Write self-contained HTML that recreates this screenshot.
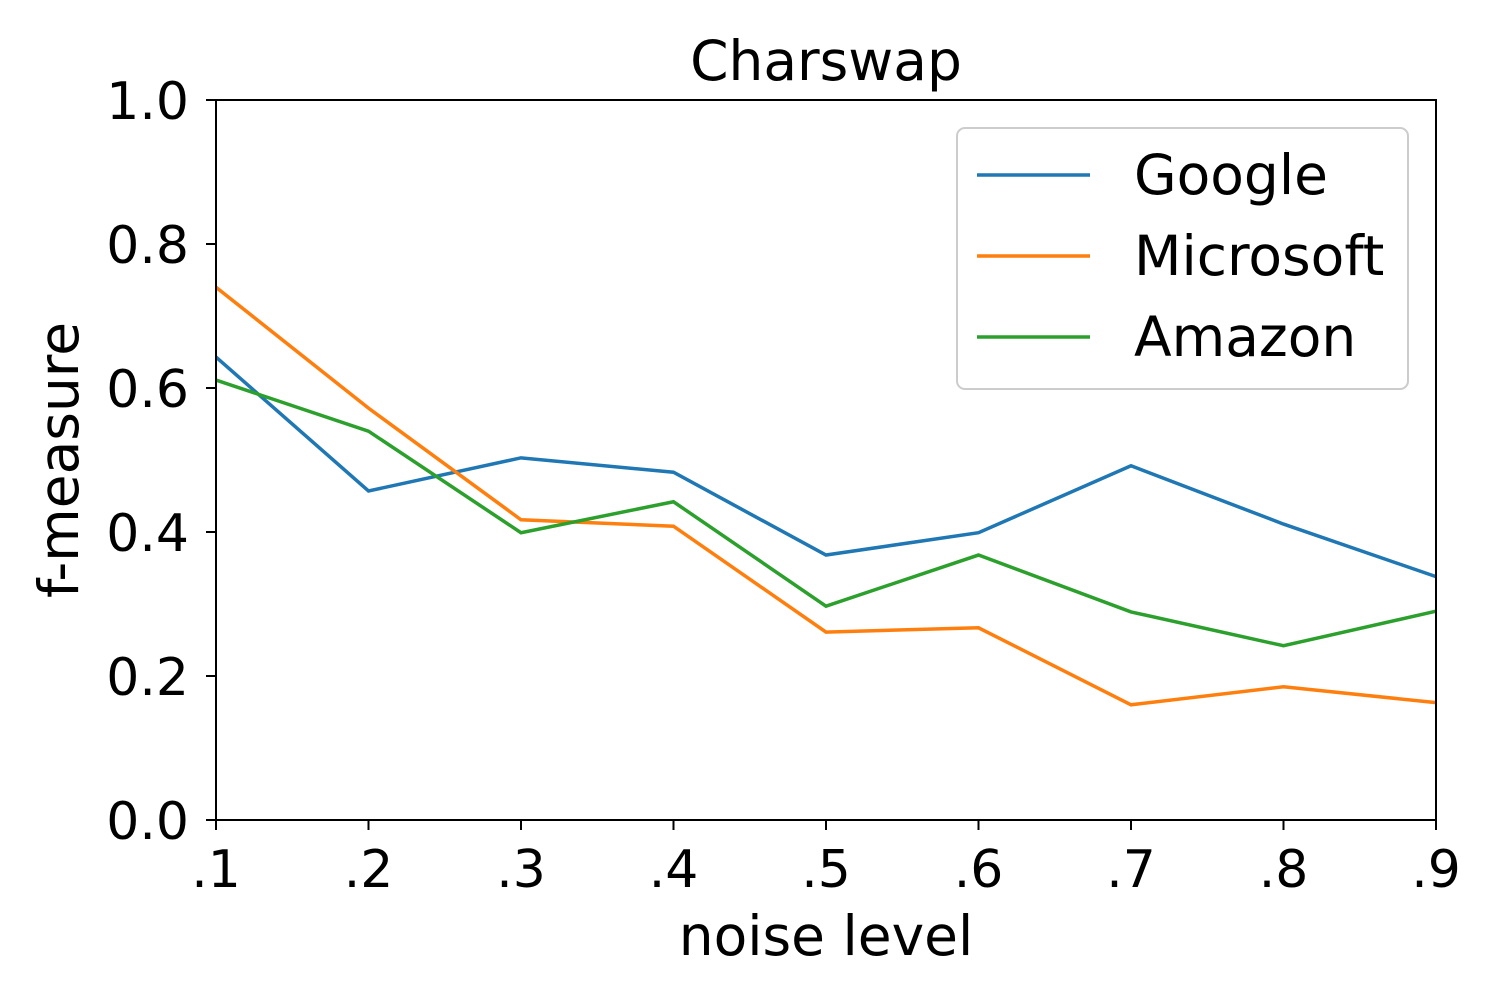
<!DOCTYPE html>
<html><head><meta charset="utf-8"><style>
body{margin:0;background:#fff}
svg{font-family:"DejaVu Sans","Liberation Sans",sans-serif}
</style></head><body>
<svg id="chart" width="1500" height="1000" viewBox="0 0 1500 1000">
<rect width="1500" height="1000" fill="#fff"/>
<text x="826" y="80" font-size="55" text-anchor="middle">Charswap</text>
<g id="plot"></g>
<rect x="216" y="100" width="1220" height="720" fill="none" stroke="#000" stroke-width="2"/>
<g id="ticks"></g>
<text x="826" y="955" font-size="55" text-anchor="middle">noise level</text>
<text transform="translate(78,460) rotate(-90)" font-size="55" text-anchor="middle">f-measure</text>
<g id="legend">
<rect x="957" y="128" width="451" height="261" rx="8" fill="#fff" fill-opacity="0.8" stroke="#ccc" stroke-width="2"/>
</g>
</svg>
<script>
const categories=[".1",".2",".3",".4",".5",".6",".7",".8",".9"];
const google=[0.643,0.457,0.503,0.483,0.368,0.399,0.492,0.411,0.338];
const microsoft=[0.740,0.572,0.417,0.408,0.261,0.267,0.160,0.185,0.163];
const amazon=[0.611,0.540,0.399,0.442,0.297,0.368,0.289,0.242,0.290];
const yTicks=[0,0.2,0.4,0.6,0.8,1.0];
const yTickLabels=["0.0","0.2","0.4","0.6","0.8","1.0"];
const seriesNames=["Google","Microsoft","Amazon"];
const NS="http://www.w3.org/2000/svg";
const X0=216,X1=1436,Y0=820,Y1=100;
const xs=i=>X0+(X1-X0)*i/(categories.length-1);
const ys=v=>Y0-(Y0-Y1)*v;
const colors=["#1f77b4","#ff7f0e","#2ca02c"];
const data=[google,microsoft,amazon];
const plot=document.getElementById('plot'),ticks=document.getElementById('ticks'),legend=document.getElementById('legend');
function mk(t,a,p){const e=document.createElementNS(NS,t);for(const k in a)e.setAttribute(k,a[k]);p.appendChild(e);return e;}
data.forEach((s,k)=>{
 const el=mk('polyline',{points:s.map((v,i)=>xs(i)+','+ys(v)).join(' '),fill:'none',stroke:colors[k],'stroke-width':3.5},plot);
 
 
});
categories.forEach((c,i)=>{
 const l=mk('line',{x1:xs(i),x2:xs(i),y1:Y0,y2:Y0+10,stroke:'#000','stroke-width':2},ticks);
 
 
 const t=mk('text',{x:xs(i),y:887,'font-size':52,'text-anchor':'middle'},ticks);t.textContent=c;
 
 
});
yTicks.forEach((v,i)=>{
 const l=mk('line',{x1:X0-10,x2:X0,y1:ys(v),y2:ys(v),stroke:'#000','stroke-width':2},ticks);
 
 
 const t=mk('text',{x:X0-27,y:ys(v)+19,'font-size':52,'text-anchor':'end'},ticks);t.textContent=yTickLabels[i];
 
 
});
seriesNames.forEach((n,k)=>{
 const y=175+81*k;
 const l=mk('line',{x1:977,x2:1090,y1:y,y2:y,stroke:colors[k],'stroke-width':3.5},legend);
 
 
 const t=mk('text',{x:1134,y:y+19,'font-size':55},legend);t.textContent=n;
 
 
});
</script>
</body></html>
